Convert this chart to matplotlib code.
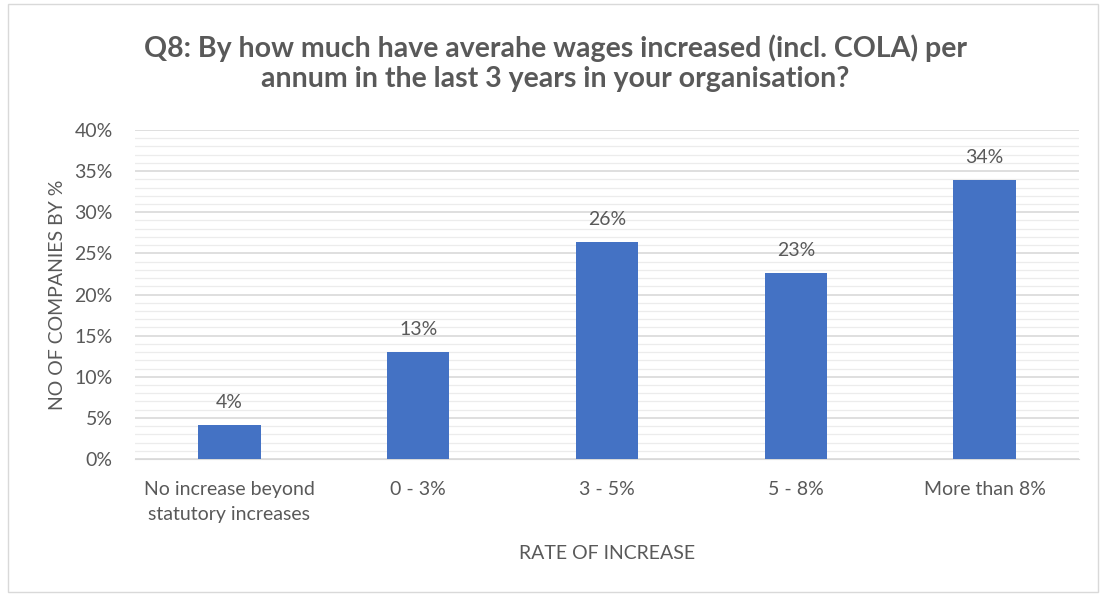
import matplotlib
matplotlib.use("Agg")
import matplotlib.pyplot as plt
from matplotlib.ticker import MultipleLocator, PercentFormatter
from matplotlib.patches import Rectangle

categories = ["No increase beyond\nstatutory increases", "0 - 3%", "3 - 5%", "5 - 8%", "More than 8%"]
shares = [4.1, 13.0, 26.4, 22.6, 33.9]

grey = "#595959"
bar_blue = "#4472C4"

plt.rcParams["font.family"] = ["Lato", "DejaVu Sans"]

fig = plt.figure(figsize=(11, 5.96), dpi=100)
ax = fig.add_axes([135 / 1100, 1 - 459 / 596, 944 / 1100, 329 / 596])

x = range(len(categories))
ax.bar(x, shares, width=0.33, color=bar_blue, zorder=3)
for xi, v in zip(x, shares):
    ax.text(xi, v + 1.7, f"{v:.0f}%", ha="center", va="bottom", fontsize=14, color=grey)

ax.set_xlim(-0.5, len(categories) - 0.5)
ax.set_ylim(0, 40)
ax.yaxis.set_major_locator(MultipleLocator(5))
ax.yaxis.set_minor_locator(MultipleLocator(1))
ax.yaxis.set_major_formatter(PercentFormatter(decimals=0))
ax.grid(axis="y", which="major", color="#d9d9d9", linewidth=1.2, zorder=0)
ax.grid(axis="y", which="minor", color="#ececec", linewidth=0.9, zorder=0)
ax.tick_params(axis="both", which="both", length=0, labelsize=14, labelcolor=grey)
ax.tick_params(axis="x", pad=16)
ax.tick_params(axis="y", pad=16)
ax.set_xticks(list(x))
ax.set_xticklabels(categories, linespacing=1.55)
for s in ["top", "right", "left"]:
    ax.spines[s].set_visible(False)
ax.spines["bottom"].set_color("#d9d9d9")

ax.set_ylabel("NO OF COMPANIES BY %", fontsize=14, color=grey, labelpad=6)
ax.set_xlabel("RATE OF INCREASE", fontsize=14, color=grey, labelpad=16)

fig.text(555 / 1100, 1 - 63 / 596, "Q8: By how much have averahe wages increased (incl. COLA) per\nannum in the last 3 years in your organisation?",
         ha="center", va="center", fontsize=20.5, fontweight="bold", color=grey, linespacing=1.2)

# light frame round the chart area
fig.patches.append(Rectangle((8 / 1100, 4 / 596), 1090 / 1100, 588 / 596, transform=fig.transFigure,
                             fill=False, edgecolor="#d9d9d9", linewidth=1))

fig.savefig("out.png", dpi=100)
